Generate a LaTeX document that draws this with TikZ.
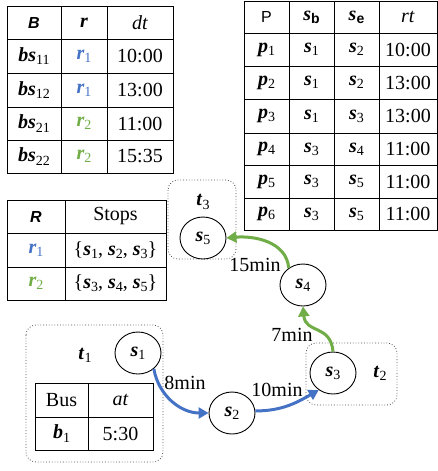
\documentclass[tikz,border=0pt]{standalone}
\usepackage{fontspec}
\setmainfont{Liberation Serif}
\newfontfamily\hdfont{Liberation Sans}
\usetikzlibrary{shapes.geometric,arrows.meta}

\definecolor{routeblue}{RGB}{68,114,196}
\definecolor{routegreen}{RGB}{112,173,71}
\newcommand{\bi}[2]{\textbf{\textit{#1}}\raisebox{-0.35ex}{\fontsize{14}{14}\selectfont #2}}

\tikzset{
  tab/.style={line width=1pt},
  cell/.style={inner sep=0pt, font=\fontsize{20}{22}\selectfont},
  hd/.style={inner sep=0pt, font=\hdfont\fontsize{16}{18}\selectfont},
  stop/.style={draw, ellipse, minimum width=46pt, minimum height=42pt, inner sep=0pt,
    line width=0.9pt, font=\fontsize{20}{22}\selectfont},
  tripbox/.style={draw, dotted, rounded corners=10pt, line width=0.8pt, black!70},
  bluelink/.style={routeblue, line width=3pt, -{Triangle[length=10pt,width=11pt]}},
  greenlink/.style={routegreen, line width=3pt, -{Triangle[length=10pt,width=11pt]}}
}

\begin{document}
\begin{tikzpicture}[x=1pt, y=-1pt]
    \useasboundingbox (0,0) rectangle (437,471);

    % Table B (buses and departures)
    \draw[tab] (7,6) rectangle (173,173);
    \foreach \x in {61,107} \draw[tab] (\x,6) -- (\x,173);
    \foreach \y in {39,73,107,140} \draw[tab] (7,\y) -- (173,\y);
    \node[hd] (bhead) at (34,22.5) {\textbf{\textit{B}}};
    \node[cell] (rhead) at (84,22.5) {\textbf{\textit{r}}};
    \node[cell] (dthead) at (140,22.5) {\textit{dt}};
    \foreach \y/\i/\c/\k/\t in {56/11/routeblue/1/10:00, 90/12/routeblue/1/13:00,
        123.5/21/routegreen/2/11:00, 156.5/22/routegreen/2/15:35} {
      \node[cell] (bs\i) at (34,\y) {\bi{bs}{\i}};
      \node[cell, text=\c] (bs\i-r) at (84,\y) {\bi{r}{\k}};
      \node[cell] (bs\i-dt) at (140,\y) {\t};
    }

    % Table P (passengers)
    \draw[tab] (244,1) rectangle (437,230);
    \foreach \x in {289,334,379} \draw[tab] (\x,1) -- (\x,230);
    \foreach \y in {33,66,99,133,165,198} \draw[tab] (244,\y) -- (437,\y);
    \node[hd] (phead) at (266.5,17) {P};
    \node[cell] (sbhead) at (311.5,17) {\bi{s}{\hdfont\bfseries b}};
    \node[cell] (sehead) at (356.5,17) {\bi{s}{\hdfont\bfseries e}};
    \node[cell] (rthead) at (408,17) {\textit{rt}};
    \foreach \y/\p/\b/\e/\t in {49.5/1/1/2/10:00, 82.5/2/1/2/13:00, 116/3/1/3/13:00,
        149/4/3/4/11:00, 181.5/5/3/5/11:00, 214/6/3/5/11:00} {
      \node[cell] (p\p) at (266.5,\y) {\bi{p}{\p}};
      \node[cell] (p\p-b) at (311.5,\y) {\bi{s}{\b}};
      \node[cell] (p\p-e) at (356.5,\y) {\bi{s}{\e}};
      \node[cell] (p\p-rt) at (408,\y) {\t};
    }

    % Table R (routes)
    \draw[tab] (7,200) rectangle (166,300);
    \draw[tab] (65,200) -- (65,300);
    \foreach \y in {233,267} \draw[tab] (7,\y) -- (166,\y);
    \node[hd] (rtabhead) at (36,216.5) {\textbf{\textit{R}}};
    \node[cell] (stopshead) at (115.5,216.5) {Stops};
    \node[cell, text=routeblue] (r1) at (36,250) {\bi{r}{1}};
    \node[cell] (r1-stops) at (115.5,250) {\{\bi{s}{1}, \bi{s}{2}, \bi{s}{3}\}};
    \node[cell, text=routegreen] (r2) at (36,283.5) {\bi{r}{2}};
    \node[cell] (r2-stops) at (115.5,283.5) {\{\bi{s}{3}, \bi{s}{4}, \bi{s}{5}\}};

    % Transfer areas
    \draw[tripbox] (26,325) rectangle (163,462);
    \draw[tripbox] (306,343) rectangle (397,405);
    \draw[tripbox] (168,180) rectangle (236,259);
    \node[cell] (t1) at (85,355) {\bi{t}{1}};
    \node[cell] (t2) at (380,373) {\bi{t}{2}};
    \node[cell] (t3) at (203,202) {\bi{t}{3}};

    % Table Bus
    \draw[tab] (35,383) rectangle (153,450);
    \draw[tab] (88,383) -- (88,450);
    \draw[tab] (35,417) -- (153,417);
    \node[cell] (bushead) at (61.5,400) {Bus};
    \node[cell] (athead) at (120.5,400) {\textit{at}};
    \node[cell] (b1) at (61.5,433.5) {\bi{b}{1}};
    \node[cell] (b1-at) at (120.5,433.5) {5:30};

    % Stops
    \node[stop] (s1) at (138,353) {\bi{s}{1}};
    \node[stop] (s2) at (232,413) {\bi{s}{2}};
    \node[stop] (s3) at (333,373) {\bi{s}{3}};
    \node[stop] (s4) at (303,285) {\bi{s}{4}};
    \node[stop] (s5) at (203,238) {\bi{s}{5}};

    % Route r1
    \draw[bluelink] (s1.-45) to[out=-80, in=180] (s2.west);
    \draw[bluelink] (s2.5) to[out=0, in=-150] (s3.-130);
    % Route r2
    \draw[greenlink] (s3.north) to[out=95, in=-85, looseness=1.3] (s4.south);
    \draw[greenlink] (s4.130) to[out=95, in=5] (s5.east);

    % Travel times
    \node[cell] (m8) at (185,383) {8min};
    \node[cell] (m10) at (277,390) {10min};
    \node[cell] (m7) at (292,335) {7min};
    \node[cell] (m15) at (255,265) {15min};
\end{tikzpicture}
\end{document}
